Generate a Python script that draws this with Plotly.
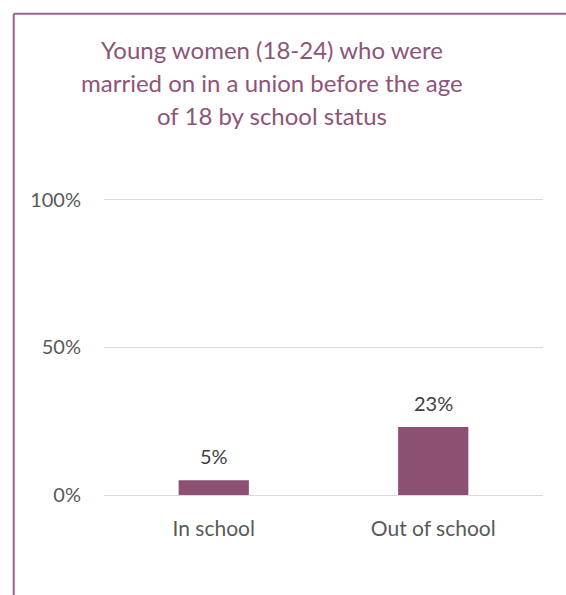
import plotly.graph_objects as go

categories = ["In school", "Out of school"]
values = [5, 23]
labels = ["5%", "23%"]
tick_vals = [0, 50, 100]
tick_text = ["0%", "50%", "100%"]
title_lines = ["Young women (18-24) who were",
               "married on in a union before the age",
               "of 18 by school status"]

W, H = 566, 595
y_top = 100.6
ml, mr, mb = 103.5, 22.5, 100
ph = 295 * y_top / 100
mt = H - mb - ph
pw = W - ml - mr

def px_x(x):
    return (x - ml) / pw

def px_y(y):
    return (H - mb - y) / ph

bar_color = "#8C5072"
title_color = "#8E5478"
border_color = "#9A6285"
font = "Lato"

fig = go.Figure()
fig.add_trace(go.Bar(x=categories, y=values, marker=dict(color=bar_color, line=dict(width=0)),
                     width=0.32, hoverinfo="skip"))

for c, v, t in zip(categories, values, labels):
    fig.add_annotation(x=c, y=v, text=t, showarrow=False, yanchor="bottom", yshift=10,
                       font=dict(family=font, size=20, color="#404040"))

title_baselines = [61, 94, 127]
for line, yb in zip(title_lines, title_baselines):
    fig.add_annotation(xref="paper", yref="paper", x=px_x(272), y=px_y(yb - 11),
                       xanchor="center", yanchor="middle", showarrow=False, text=line,
                       font=dict(family=font, size=24, color=title_color))

fig.update_layout(
    width=W, height=H, autosize=False,
    margin=dict(l=ml, r=mr, t=mt, b=mb, pad=0),
    paper_bgcolor="white", plot_bgcolor="white",
    showlegend=False,
    bargap=0.68,
    shapes=[
        dict(type="line", xref="paper", yref="paper", x0=px_x(13), x1=px_x(580), y0=px_y(14), y1=px_y(14),
             line=dict(color=border_color, width=2)),
        dict(type="line", xref="paper", yref="paper", x0=px_x(13), x1=px_x(13), y0=px_y(14), y1=px_y(610),
             line=dict(color=border_color, width=2)),
    ],
)
fig.update_yaxes(range=[0, y_top], tickvals=tick_vals, ticktext=tick_text, showgrid=True,
                 gridcolor="#D9D9D9", gridwidth=1, zeroline=False, showline=False,
                 ticklabelstandoff=22, tickfont=dict(family=font, size=20, color="#595959"))
fig.update_xaxes(showline=True, linecolor="#D9D9D9", linewidth=1, showgrid=False,
                 ticklabelstandoff=15, tickfont=dict(family=font, size=21, color="#595959"))

fig.write_html("out.html")
